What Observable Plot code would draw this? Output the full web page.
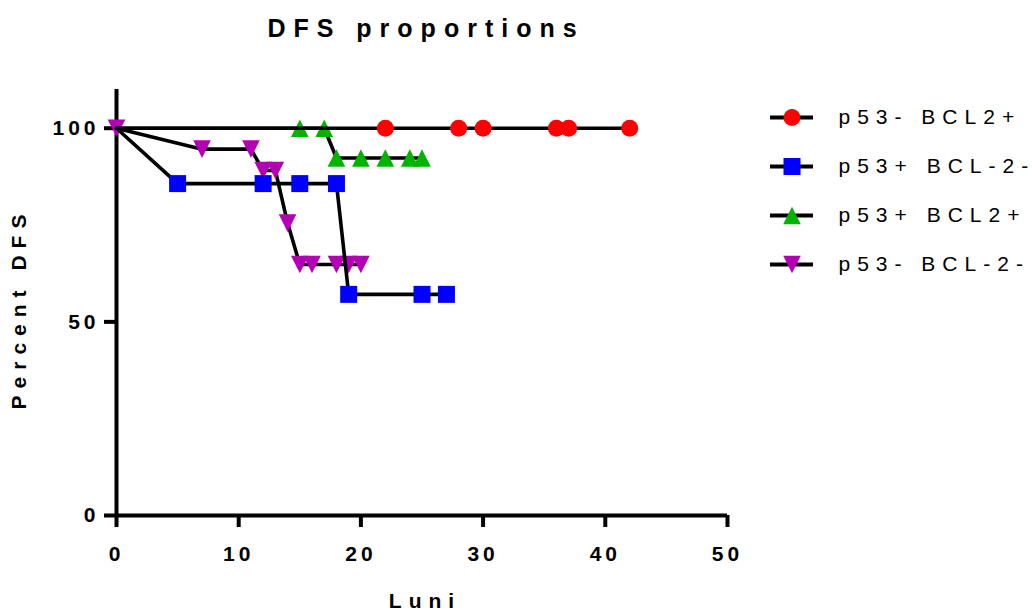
<!DOCTYPE html>
<html>
<head>
<meta charset="utf-8">
<script src="https://cdn.jsdelivr.net/npm/d3@7"></script>
<script src="https://cdn.jsdelivr.net/npm/@observablehq/plot@0.6"></script>
<style>
  html, body { margin: 0; padding: 0; background: #fff; }
  #wrap { position: relative; width: 1035px; height: 614px; overflow: hidden; }
  #chart { position: absolute; left: 0; top: 0; }
  #legend { position: absolute; left: 760px; top: 92px; }
  svg text { font-family: "Liberation Sans", Arial, Helvetica, sans-serif; }
  [aria-label="x-axis tick label"] text,
  [aria-label="y-axis tick label"] text { letter-spacing: 4px; }
  [aria-description="chart title"] text { letter-spacing: 8px; }
  [aria-description="axis title"] text { letter-spacing: 7px; }
  [aria-description="legend label"] text { letter-spacing: 7px; }
</style>
</head>
<body>
<div id="wrap">
  <div id="chart"></div>
  <div id="legend"></div>
</div>
<script>
// Groups, in legend order
const seriesNames = ["p53- BCL2+", "p53+ BCL-2-", "p53+ BCL2+", "p53- BCL-2-"];
const seriesColors = ["#ff0000", "#0000ff", "#00b400", "#b400b4"];

// Months of follow-up and percent disease-free survival for each group
const redMonths = [0, 22, 28, 30, 36, 37, 42];
const redPct = [100, 100, 100, 100, 100, 100, 100];
const blueMonths = [0, 5, 12, 15, 18, 19, 25, 27];
const bluePct = [100, 85.7, 85.7, 85.7, 85.7, 57.1, 57.1, 57.1];
const greenMonths = [0, 15, 17, 18, 20, 22, 24, 25];
const greenPct = [100, 100, 100, 92.3, 92.3, 92.3, 92.3, 92.3];
const purpleMonths = [0, 7, 11, 12, 13, 14, 15, 16, 18, 19, 20];
const purplePct = [100, 94.6, 94.6, 89.1, 89.1, 75.5, 64.8, 64.8, 64.8, 64.8, 64.8];

// Whether the starting point (month 0) carries a symbol
const originSymbol = [false, false, false, true];

const xTicks = [0, 10, 20, 30, 40, 50];
const yTicks = [0, 50, 100];

// Symbol shapes sized from the dot radius
const radiusOf = (size) => Math.sqrt(size / Math.PI);
const circleSym = { draw(ctx, size) { const r = radiusOf(size); ctx.moveTo(r, 0); ctx.arc(0, 0, r, 0, 2 * Math.PI); } };
const squareSym = { draw(ctx, size) { const r = radiusOf(size); ctx.rect(-r, -r, 2 * r, 2 * r); } };
const triUpSym = { draw(ctx, size) { const r = radiusOf(size); ctx.moveTo(0, -r); ctx.lineTo(r, r); ctx.lineTo(-r, r); ctx.closePath(); } };
const triDownSym = { draw(ctx, size) { const r = radiusOf(size); ctx.moveTo(0, r); ctx.lineTo(r, -r); ctx.lineTo(-r, -r); ctx.closePath(); } };
const seriesSymbols = [circleSym, squareSym, triUpSym, triDownSym];
const seriesRadius = [8.5, 8.5, 8.8, 8.8];

const monthsList = [redMonths, blueMonths, greenMonths, purpleMonths];
const pctList = [redPct, bluePct, greenPct, purplePct];
const series = seriesNames.map((name, i) => ({
  name,
  points: monthsList[i].map((t, j) => ({ t, pct: pctList[i][j], first: j === 0 }))
}));

// Later groups are painted first, so earlier ones sit on top
const drawOrder = [3, 2, 1, 0];
const seriesMarks = drawOrder.flatMap((i) => [
  Plot.line(series[i].points, { x: "t", y: "pct", stroke: "black", strokeWidth: 3.6 }),
  Plot.dot(series[i].points.filter((d) => !d.first || originSymbol[i]), {
    x: "t", y: "pct", symbol: seriesSymbols[i], r: seriesRadius[i], fill: seriesColors[i], stroke: "none"
  })
]);

const chart = Plot.plot({
  width: 1035,
  height: 614,
  marginTop: 89,
  marginBottom: 99,
  marginLeft: 116,
  marginRight: 308,
  x: { domain: [0, 50] },
  y: { domain: [0, 110] },
  style: { background: "white", color: "black", overflow: "visible" },
  marks: [
    Plot.ruleX([0], { stroke: "black", strokeWidth: 4 }),
    Plot.ruleY([0], { stroke: "black", strokeWidth: 4 }),
    Plot.axisX({ ticks: xTicks, tickSize: 12, tickPadding: 19, strokeWidth: 4, fontSize: 21, fontWeight: "bold", label: null }),
    Plot.axisY({ ticks: yTicks, tickSize: 12, tickPadding: 5, strokeWidth: 4, fontSize: 21, fontWeight: "bold", label: null }),
    ...seriesMarks,
    Plot.text(["DFS proportions"], { frameAnchor: "top", lineAnchor: "middle", textAnchor: "middle", dy: -61, dx: 4, fontSize: 25, fontWeight: "bold", ariaDescription: "chart title" }),
    Plot.text(["Luni"], { frameAnchor: "bottom", lineAnchor: "middle", textAnchor: "middle", dy: 86, dx: 3, fontSize: 21, fontWeight: "bold", ariaDescription: "axis title" }),
    Plot.text(["Percent DFS"], { frameAnchor: "left", lineAnchor: "middle", textAnchor: "middle", dx: -97, dy: 6, rotate: -90, fontSize: 21, fontWeight: "bold", ariaDescription: "axis title" })
  ]
});
document.getElementById("chart").appendChild(chart);

// Legend: line-and-symbol swatch beside each group name
const legend = Plot.plot({
  width: 275,
  height: 196,
  marginTop: 24,
  marginBottom: 24,
  marginLeft: 10,
  marginRight: 222,
  y: { type: "point", domain: seriesNames, padding: 0, axis: null },
  style: { background: "transparent", overflow: "visible" },
  marks: [
    Plot.ruleY(seriesNames, { stroke: "black", strokeWidth: 4 }),
    ...seriesNames.map((name, i) => Plot.dot([name], {
      y: (d) => d, symbol: seriesSymbols[i], r: seriesRadius[i], fill: seriesColors[i], stroke: "none"
    })),
    Plot.text(seriesNames, { y: (d) => d, text: (d) => d, frameAnchor: "right", dx: 25, textAnchor: "start", fontSize: 21, fill: "black", ariaDescription: "legend label" })
  ]
});
document.getElementById("legend").appendChild(legend);
</script>
</body>
</html>
